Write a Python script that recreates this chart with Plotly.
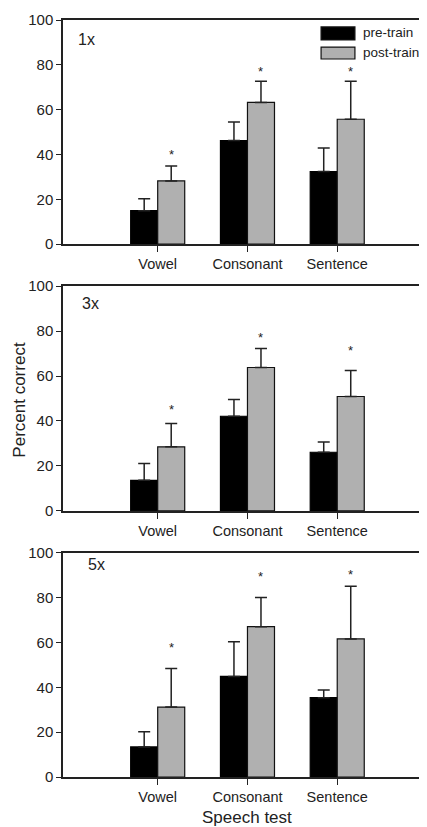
import plotly.graph_objects as go

# ---------------- data ----------------
tests = ["Vowel", "Consonant", "Sentence"]
panel_labels = ["1x", "3x", "5x"]

pre_1x = [14.9, 46.2, 32.4]
pre_err_1x = [5.3, 8.3, 10.5]
post_1x = [28.2, 63.2, 55.7]
post_err_1x = [6.7, 9.5, 17.0]
star_1x = [41.2, 78.5, 78.5]

pre_3x = [13.6, 42.1, 26.1]
pre_err_3x = [7.5, 7.5, 4.5]
post_3x = [28.5, 63.8, 50.9]
post_err_3x = [10.4, 8.5, 11.6]
star_3x = [46.6, 78.5, 72.6]

pre_5x = [13.4, 44.9, 35.4]
pre_err_5x = [6.8, 15.4, 3.4]
post_5x = [31.2, 67.1, 61.6]
post_err_5x = [17.2, 13.0, 23.5]
star_5x = [59.1, 90.8, 91.8]

y_ticks = [0, 20, 40, 60, 80, 100]

panels = [
    (pre_1x, pre_err_1x, post_1x, post_err_1x, star_1x),
    (pre_3x, pre_err_3x, post_3x, post_err_3x, star_3x),
    (pre_5x, pre_err_5x, post_5x, post_err_5x, star_5x),
]

# ---------------- style ----------------
FONT = "Liberation Sans, Arial, sans-serif"
TXT = "#222222"
GREY = "#b0b0b0"
LINE = "#222222"

OFF = 8  # page body margin
W, H = 427 - OFF, 827 - OFF
ML = 63 - OFF
MT = 20 - OFF
MR = 0
MB = H - (776.7 - OFF)
plot_h = H - MT - MB
plot_w = W - ML - MR
# panel pixel extents in window coords (top, bottom)
panel_px = [(20, 244), (286, 510.7), (552.7, 776.7)]


def pfrac(py):
    """window pixel y -> paper fraction"""
    return 1 - (py - OFF - MT) / plot_h


def xfrac(px):
    """window pixel x -> paper fraction"""
    return (px - OFF - ML) / plot_w


fig = go.Figure()

for i, (pre, pre_e, post, post_e, star) in enumerate(panels):
    n = "" if i == 0 else str(i + 1)
    xa, ya = "x" + n, "y" + n
    fig.add_trace(go.Bar(
        x=tests, y=pre, name="pre-train", xaxis=xa, yaxis=ya,
        marker=dict(color="#000000", line=dict(color="#000000", width=1.2)),
        error_y=dict(type="data", array=pre_e, arrayminus=[0] * len(pre),
                     symmetric=False, color=LINE, thickness=1.5, width=6),
        showlegend=False,
    ))
    fig.add_trace(go.Bar(
        x=tests, y=post, name="post-train", xaxis=xa, yaxis=ya,
        marker=dict(color=GREY, line=dict(color="#111111", width=1.2)),
        error_y=dict(type="data", array=post_e, arrayminus=[0] * len(post),
                     symmetric=False, color=LINE, thickness=1.5, width=6),
        showlegend=False,
    ))
    # significance asterisks above post-train bars
    for t, s in zip(tests, star):
        fig.add_annotation(
            x=t, y=s, xref=xa, yref=ya, text="*", showarrow=False,
            xanchor="center", yanchor="middle", xshift=13.5, yshift=-3,
            font=dict(family=FONT, size=13, color=TXT),
        )

    top, bot = panel_px[i]
    xkey = "xaxis" + n
    ykey = "yaxis" + n
    fig.layout[xkey] = dict(
        domain=[0, 1], anchor=ya, type="category", categoryarray=tests,
        range=[-1.055, 3.0], showline=True, linecolor=LINE, linewidth=1.5,
        mirror=True, ticks="outside", ticklen=6, tickwidth=1.2, tickcolor=LINE,
        showgrid=False, zeroline=False,
        tickfont=dict(family=FONT, size=14.5, color=TXT),
    )
    fig.layout[ykey] = dict(
        domain=[pfrac(bot), pfrac(top)], anchor=xa, range=[0, 100],
        tickvals=y_ticks, showline=True, linecolor=LINE, linewidth=1.5,
        ticks="outside", ticklen=5, tickwidth=1.2, tickcolor=LINE,
        showgrid=False, zeroline=False,
        tickfont=dict(family=FONT, size=15, color=TXT),
    )

# panel labels
label_pos = [(0.036, 0.915), (0.047, 0.924), (0.063, 0.95)]
for i, lab in enumerate(panel_labels):
    n = "" if i == 0 else str(i + 1)
    fig.add_annotation(
        text=lab, xref="x" + n + " domain", yref="y" + n + " domain",
        x=label_pos[i][0], y=label_pos[i][1], xanchor="left", yanchor="middle",
        showarrow=False, font=dict(family=FONT, size=16, color=TXT),
    )

# custom legend (panel 1)
legend_items = [("pre-train", "#000000", 0.911, 0.969, 0.942),
                ("post-train", GREY, 0.826, 0.879, 0.853)]
for name, col, y0, y1, yc in legend_items:
    fig.add_shape(type="rect", xref="x domain", yref="y domain",
                  x0=0.709, x1=0.802, y0=y0, y1=y1,
                  fillcolor=col, line=dict(color="#111111", width=1.2))
    fig.add_annotation(text=name, xref="x domain", yref="y domain",
                       x=0.818, y=yc, xanchor="left", yanchor="middle",
                       showarrow=False, font=dict(family=FONT, size=13.5, color=TXT))

# axis titles
fig.add_annotation(text="Percent correct", xref="paper", yref="paper",
                   x=xfrac(19.5), y=pfrac(400), textangle=-90,
                   xanchor="center", yanchor="middle", showarrow=False,
                   font=dict(family=FONT, size=17, color=TXT))
fig.add_annotation(text="Speech test", xref="paper", yref="paper",
                   x=xfrac(247), y=pfrac(817), xanchor="center", yanchor="middle",
                   showarrow=False, font=dict(family=FONT, size=17, color=TXT))

fig.update_layout(
    width=W, height=H, autosize=False,
    margin=dict(l=ML, r=MR, t=MT, b=MB, pad=0),
    barmode="group", bargap=0.398, bargroupgap=0,
    plot_bgcolor="white", paper_bgcolor="white",
    font=dict(family=FONT, color=TXT),
    showlegend=False,
)

fig.write_html("out.html")
